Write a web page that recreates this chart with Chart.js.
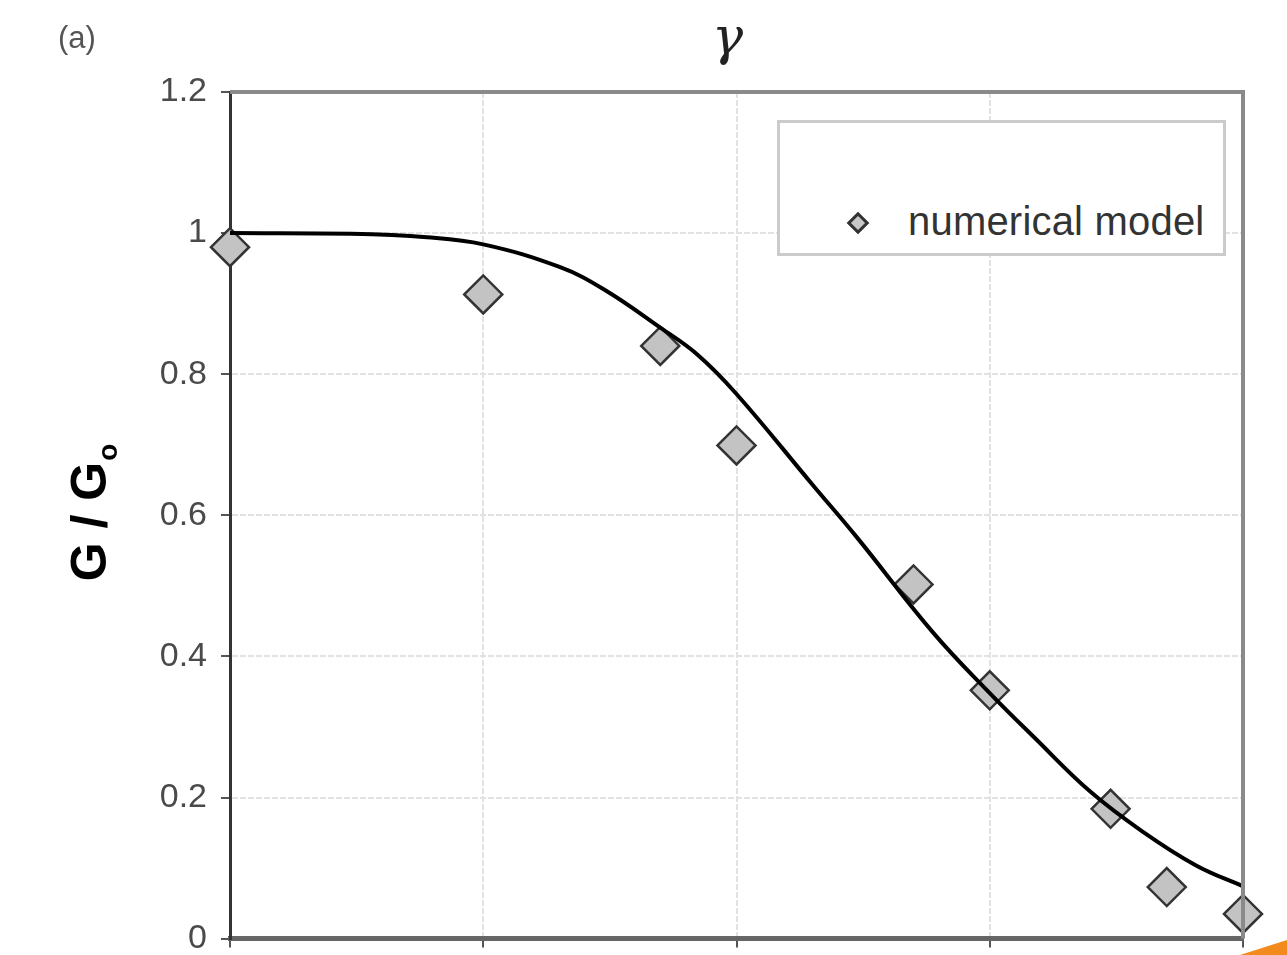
<!DOCTYPE html>
<html>
<head>
<meta charset="utf-8">
<script src="https://cdn.jsdelivr.net/npm/chart.js@4.4.1/dist/chart.umd.min.js"></script>
<style>
  body{margin:0;background:#fff;overflow:hidden;}
  #wrap{position:relative;width:1287px;height:955px;overflow:hidden;}
  #myChart{position:absolute;left:0;top:0;}
  .lbl{position:absolute;font-family:"Liberation Sans",Arial,sans-serif;color:#555;}
  #legendBox{position:absolute;left:777px;top:120px;width:443px;height:130px;border:3px solid #cbcbcb;background:#fff;}
  #legendBox .mk{position:absolute;left:70px;top:92px;width:10px;height:10px;transform:rotate(45deg);border:3px solid #333;background:#c8c8c8;}
  #legendBox .tx{position:absolute;left:128px;top:76px;font-family:"Liberation Sans",Arial,sans-serif;font-size:40px;letter-spacing:0.2px;color:#333;white-space:nowrap;}
  #corner{position:absolute;left:1240px;top:940px;width:47px;height:15px;background:#f28a1c;clip-path:polygon(100% 0,100% 100%,0 100%);}
</style>
</head>
<body>
<div id="wrap">
  <canvas id="myChart" width="1287" height="973"></canvas>
  <div class="lbl" style="left:58px;top:20px;font-size:31px;">(a)</div>
  <div class="lbl" style="left:712px;top:6px;font-size:52px;font-family:'DejaVu Serif',serif;font-style:italic;color:#222;">γ</div>
  <div id="legendBox"><div class="mk"></div><div class="tx">numerical model</div></div>
  <div id="corner"></div>
</div>
<script>
// numerical model points (shear strain, G/Go)
const strainPts = [0.0001, 0.001, 0.005, 0.01, 0.05, 0.1, 0.3, 0.5, 1];
const modelVals = [0.98, 0.913, 0.84, 0.699, 0.502, 0.352, 0.184, 0.073, 0.035];

// reference curve
const curveStrain = [0.0001, 0.0003, 0.0006, 0.001, 0.002, 0.003, 0.005, 0.007, 0.01, 0.02, 0.03, 0.06, 0.1, 0.15, 0.25, 0.4, 0.65, 1];
const curveVals   = [1.0, 0.999, 0.994, 0.984, 0.952, 0.92, 0.866, 0.828, 0.772, 0.643, 0.568, 0.433, 0.348, 0.285, 0.208, 0.152, 0.104, 0.074];

// axis ticks
const xGrid = [0.0001, 0.001, 0.01, 0.1, 1];
const yMin = 0, yMax = 1.2, yStep = 0.2;

const font = '"Liberation Sans", Arial, sans-serif';

// frame + y title
const framePlugin = {
  id: 'frame',
  afterDatasetsDraw(chart){
    const c = chart.ctx, a = chart.chartArea;
    c.save();
    c.strokeStyle = '#8a8a8a';
    c.lineWidth = 4;
    c.beginPath();
    c.moveTo(a.left, a.top);
    c.lineTo(a.right, a.top);
    c.lineTo(a.right, a.bottom);
    c.stroke();
    c.restore();
  },
  afterDraw(chart){
    const c = chart.ctx, a = chart.chartArea;
    c.save();
    c.translate(106, (a.top + a.bottom) / 2 + 66);
    c.rotate(-Math.PI / 2);
    c.fillStyle = '#000';
    c.font = 'bold 50px ' + font;
    c.textBaseline = 'alphabetic';
    c.fillText('G / G', 0, 0);
    const w = c.measureText('G / G').width;
    c.font = 'bold 28px ' + font;
    c.fillText('o', w + 1, 11);
    c.restore();
  }
};

const ctx = document.getElementById('myChart');

new Chart(ctx, {
  type: 'line',
  data: {
    datasets: [{
      label: 'curve',
      data: curveStrain.map((x, i) => ({x: x, y: curveVals[i]})),
      borderColor: '#000',
      borderWidth: 4,
      pointRadius: 0,
      tension: 0.4,
      fill: false,
      clip: false
    }, {
      label: 'numerical model',
      data: strainPts.map((x, i) => ({x: x, y: modelVals[i]})),
      showLine: false,
      pointStyle: 'rectRot',
      pointRadius: 19,
      pointHoverRadius: 19,
      pointBackgroundColor: '#c3c3c3',
      pointBorderColor: '#333',
      pointBorderWidth: 2.5,
      clip: false
    }]
  },
  options: {
    responsive: false,
    animation: false,
    events: [],
    layout: { padding: { top: 92, right: 44, bottom: 0, left: 0 } },
    plugins: { legend: { display: false }, tooltip: { enabled: false } },
    scales: {
      x: {
        type: 'logarithmic',
        min: xGrid[0],
        max: xGrid[xGrid.length - 1],
        afterBuildTicks: s => { s.ticks = xGrid.map(v => ({value: v})); },
        afterFit: s => { s.height = 18; },
        ticks: { display: false },
        grid: { color: '#e2e2e2', lineWidth: 2, tickLength: 9, tickColor: '#555', tickWidth: 2 },
        border: { display: true, color: '#666', width: 5, dash: [6, 2] }
      },
      y: {
        min: yMin,
        max: yMax,
        afterFit: s => { s.width = 230; },
        ticks: {
          stepSize: yStep,
          padding: 14,
          color: '#4a4a4a',
          font: { family: font, size: 34 },
          callback: v => String(Number(v.toFixed(1)))
        },
        grid: { color: '#e2e2e2', lineWidth: 2, tickLength: 9, tickColor: '#555', tickWidth: 2 },
        border: { display: true, color: '#333', width: 3, dash: [6, 2] }
      }
    }
  },
  plugins: [framePlugin]
});
</script>
</body>
</html>
